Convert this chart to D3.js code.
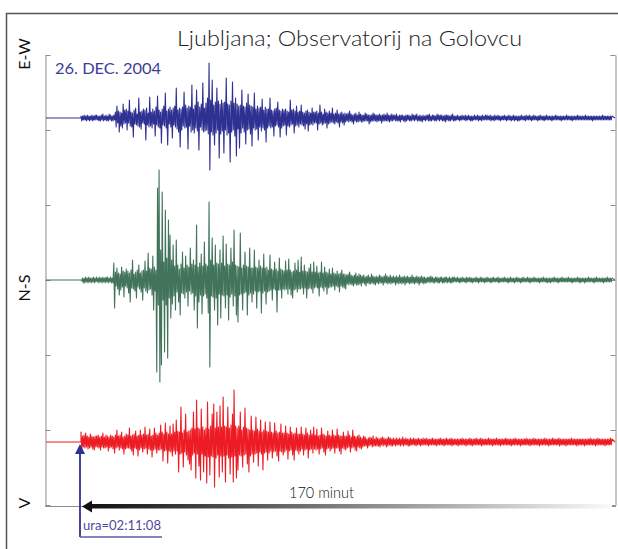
<!DOCTYPE html>
<html>
<head>
<meta charset="utf-8">
<script src="https://cdn.jsdelivr.net/npm/d3@7"></script>
<style>
  body { margin: 0; background: #fff; }
  text { font-family: "Lato", "Open Sans", "DejaVu Sans", sans-serif; }
</style>
</head>
<body>
<div id="seismo"></div>
<script>
// ------------------------------------------------------------------------ //
// DATA (amplitudes, one value every quarter minute)
// ------------------------------------------------------------------------ //

var channels = ["E-W", "N-S", "V"]
var stepMin = 0.25
var durationMin = 170
var startTime = "ura=02:11:08"
var dateLabel = "26. DEC. 2004"

var ampEW = [
  2,-3,2,-2,3,-2,2,-3,3,-2,2,-3,2,-2,3,-3,2,-2,3,-2,
  3,-2,2,-3,2,-3,3,-2,4,-3,2,-2,3,-3,2,-3,4,-2,3,-3,
  2,-3,3,-2,6,-9,12,-5,7,-14,6,-8,5,-10,14,-6,8,-5,9,-12,
  7,-5,18,-8,6,-9,5,-19,8,-6,10,-7,4,-8,20,-9,6,-11,7,-5,
  9,-6,8,-22,10,-7,5,-9,21,-8,6,-10,9,-6,7,-18,11,-7,22,-9,
  8,-10,6,-25,9,-7,12,-8,25,-10,7,-27,9,-6,11,-9,8,-20,10,-7,
  12,-9,30,-11,8,-14,10,-29,9,-12,11,-8,26,-10,13,-9,10,-31,12,-8,
  11,-14,33,-12,9,-15,13,-10,28,-13,16,-32,11,-9,14,-12,35,-14,10,-13,
  15,-12,20,-16,55,-52,18,-14,38,-17,13,-27,16,-15,30,-12,17,-40,14,-16,
  18,-13,15,-35,16,-12,40,-17,14,-15,13,-44,17,-14,36,-12,15,-18,20,-38,
  14,-11,12,-30,13,-15,28,-10,12,-14,11,-26,15,-12,24,-11,13,-16,12,-28,
  11,-10,25,-12,9,-11,12,-22,10,-9,11,-13,19,-10,8,-12,11,-24,9,-10,
  9,-8,20,-10,8,-9,7,-18,9,-8,10,-7,16,-9,8,-19,7,-10,9,-8,
  8,-7,9,-17,7,-8,6,-9,18,-7,8,-6,9,-15,7,-8,12,-7,6,-9,
  7,-6,13,-7,6,-8,5,-11,7,-6,8,-13,6,-7,5,-6,10,-7,6,-5,
  6,-5,7,-12,5,-6,13,-5,6,-7,4,-6,9,-5,6,-10,5,-6,7,-5,
  5,-4,10,-5,4,-6,5,-4,8,-5,4,-9,5,-4,6,-5,4,-7,5,-4,
  4,-3,5,-4,7,-3,4,-4,3,-6,4,-3,5,-4,3,-4,6,-3,4,-4,
  3,-4,3,-3,5,-3,4,-3,3,-6,3,-4,3,-3,5,-3,4,-3,3,-4,
  3,-3,4,-3,3,-5,3,-3,4,-3,3,-3,5,-3,3,-4,3,-3,4,-3,
  3,-2,3,-3,4,-3,2,-3,3,-4,3,-2,3,-3,2,-4,3,-3,3,-2,
  3,-3,2,-3,4,-2,3,-3,3,-2,4,-3,2,-3,3,-3,2,-4,3,-2,
  2,-3,3,-2,3,-3,4,-3,2,-3,3,-2,3,-3,2,-3,4,-2,3,-3,
  3,-2,3,-3,2,-3,3,-4,3,-2,3,-3,2,-3,3,-2,4,-3,2,-3,
  2,-2,3,-2,2,-3,2,-2,3,-2,2,-2,3,-3,2,-2,3,-2,2,-3,
  2,-3,2,-2,3,-2,2,-2,3,-3,2,-2,2,-3,3,-2,2,-2,3,-2,
  3,-2,2,-2,3,-3,2,-2,2,-3,3,-2,2,-2,3,-2,2,-3,2,-2,
  2,-2,3,-2,2,-3,2,-2,3,-2,2,-3,2,-2,3,-3,2,-2,2,-3,
  2,-3,2,-2,3,-2,2,-2,2,-3,3,-2,2,-2,3,-2,2,-3,2,-2,
  3,-2,2,-2,2,-3,2,-2,3,-2,2,-2,2,-3,2,-2,3,-2,2,-2,
  2,-2,2,-3,2,-2,2,-2,3,-2,2,-2,2,-2,2,-3,2,-2,2,-2,
  2,-2,3,-2,2,-2,2,-2,2,-3,2,-2,2,-2,2,-2,3,-2,2,-2,
  2,-2,2,-2,2,-2,3,-2,2,-2,2,-2,2,-2,2,-3,2,-2,2,-2,
  2,-2,2,-2,2,-2,2,-2,3,-2,2,-2,2,-2,2,-2,2,-2,2,-2,
  2
]

var ampNS = [
  0,-1,2,-3,2,-3,3,-2,2,-3,3,-2,2,-3,2,-2,3,-3,2,-2,
  3,-2,2,-3,3,-2,2,-3,3,-2,2,-3,3,-2,3,-3,2,-2,3,-3,
  2,-3,17,-28,8,-6,12,-9,7,-15,6,-10,13,-7,9,-17,8,-6,11,-8,
  9,-13,7,-22,10,-8,20,-9,6,-11,8,-18,10,-7,15,-9,7,-12,9,-20,
  10,-8,19,-11,9,-13,27,-10,12,-9,11,-15,24,-30,13,-11,10,-92,92,-25,
  110,-102,30,-85,88,-20,18,-72,70,-25,22,-78,60,-18,45,-38,20,-24,35,-16,
  14,-30,40,-12,15,-22,11,-35,16,-13,28,-14,12,-18,24,-12,15,-26,13,-11,
  32,-14,16,-13,20,-30,15,-16,55,-48,13,-22,17,-15,26,-34,14,-16,38,-14,
  16,-18,14,-33,78,-87,20,-16,42,-17,15,-30,35,-18,17,-45,16,-14,30,-38,
  17,-15,44,-16,14,-28,36,-15,16,-40,15,-17,32,-14,18,-26,50,-16,15,-35,
  14,-42,13,-15,47,-14,12,-30,15,-13,28,-12,14,-35,13,-15,32,-13,12,-22,
  12,-14,30,-11,13,-28,12,-12,20,-11,14,-33,12,-13,26,-11,12,-24,13,-12,
  10,-11,25,-10,11,-20,10,-9,18,-10,11,-32,9,-10,22,-10,11,-18,10,-9,
  9,-10,19,-9,10,-14,21,-9,10,-15,8,-18,9,-10,17,-9,10,-12,20,-9,
  8,-9,23,-8,9,-14,15,-8,9,-18,8,-9,12,-8,16,-9,8,-13,18,-8,
  8,-7,14,-8,7,-16,8,-7,18,-8,7,-11,13,-7,8,-14,7,-8,11,-7,
  6,-7,12,-6,7,-10,6,-6,9,-7,6,-12,7,-6,10,-7,6,-8,6,-9,
  5,-4,6,-5,8,-4,5,-5,4,-6,5,-4,7,-5,4,-5,6,-4,5,-6,
  4,-3,5,-4,3,-6,4,-3,5,-4,3,-4,6,-3,4,-4,3,-5,4,-3,
  3,-4,5,-3,4,-3,3,-5,4,-3,6,-3,4,-4,3,-3,5,-4,3,-3,
  4,-3,3,-5,4,-3,3,-4,5,-3,3,-4,3,-3,4,-5,3,-3,4,-3,
  3,-4,3,-3,5,-3,3,-4,3,-3,4,-3,3,-5,3,-3,4,-3,3,-4,
  3,-3,2,-3,3,-2,3,-3,4,-2,3,-3,2,-3,3,-2,3,-3,2,-3,
  3,-2,3,-3,2,-3,3,-2,3,-3,2,-2,3,-3,2,-3,3,-2,3,-2,
  2,-2,3,-2,2,-3,2,-2,3,-2,2,-2,2,-3,3,-2,2,-2,3,-2,
  2,-3,2,-2,2,-2,3,-2,2,-3,2,-2,3,-2,2,-2,2,-3,2,-2,
  3,-2,2,-2,2,-3,2,-2,3,-2,2,-2,2,-2,3,-3,2,-2,2,-2,
  2,-2,3,-2,2,-2,2,-3,2,-2,3,-2,2,-2,2,-3,2,-2,3,-2,
  2,-2,2,-3,2,-2,3,-2,2,-2,2,-2,3,-2,2,-3,2,-2,2,-2,
  3,-2,2,-2,2,-2,2,-3,2,-2,2,-2,3,-2,2,-2,2,-3,2,-2,
  2,-3,2,-2,2,-2,3,-2,2,-2,2,-3,2,-2,2,-2,3,-2,2,-2,
  2,-2,2,-2,3,-2,2,-2,2,-3,2,-2,2,-2,2,-2,3,-2,2,-3,
  2,-2,2,-2,2,-3,2,-2,2,-2,3,-2,2,-2,2,-2,2,-3,2,-2,
  3,-2,2,-2,2,-2,2,-2,2,-3,2,-2,2,-2,3,-2,2,-2,2,-2,
  2
]

var ampV = [
  10,-8,6,-5,7,-6,9,-5,6,-7,5,-6,8,-5,6,-7,5,-8,6,-5,
  6,-5,7,-6,5,-8,6,-5,9,-6,5,-6,7,-5,6,-9,5,-6,7,-5,
  6,-7,5,-11,7,-6,12,-5,6,-8,7,-6,10,-7,5,-12,6,-7,8,-6,
  7,-6,14,-7,6,-9,7,-13,8,-6,11,-7,6,-14,7,-8,12,-6,7,-10,
  8,-7,15,-6,7,-12,8,-7,13,-8,6,-15,7,-8,14,-7,9,-11,7,-8,
  9,-8,17,-7,10,-19,8,-9,19,-8,10,-21,8,-9,16,-10,8,-14,18,-9,
  10,-12,22,-9,11,-30,10,-12,35,-11,9,-25,12,-10,28,-13,10,-18,11,-22,
  12,-28,14,-13,30,-11,13,-36,42,-12,14,-24,13,-38,33,-12,15,-30,12,-14,
  14,-41,40,-15,13,-33,16,-14,28,-15,38,-45,14,-16,30,-13,15,-35,36,-14,
  15,-30,45,-14,16,-40,15,-13,35,-16,14,-32,17,-15,28,-40,52,-14,16,-36,
  14,-28,16,-13,30,-14,12,-25,15,-13,34,-12,14,-22,13,-30,12,-14,26,-12,
  12,-20,11,-12,25,-11,13,-24,11,-10,22,-12,10,-28,12,-11,20,-10,11,-18,
  10,-11,20,-9,10,-16,9,-10,19,-9,11,-14,9,-19,10,-9,18,-10,9,-13,
  9,-10,16,-8,9,-17,8,-9,15,-8,10,-13,8,-18,9,-8,14,-9,8,-12,
  8,-9,15,-7,8,-13,7,-8,14,-7,9,-16,7,-8,12,-7,8,-11,15,-7,
  7,-8,13,-7,6,-12,7,-7,14,-6,8,-10,7,-13,6,-7,11,-6,7,-9,
  6,-7,12,-6,7,-11,6,-6,13,-6,7,-9,6,-12,6,-6,10,-7,6,-8,
  6,-6,11,-5,7,-10,5,-6,12,-5,6,-8,5,-9,6,-5,7,-6,5,-7,
  4,-5,6,-4,5,-4,3,-6,4,-4,5,-3,4,-5,6,-4,3,-4,5,-4,
  4,-4,3,-5,4,-3,5,-4,4,-3,3,-5,4,-4,5,-3,4,-4,3,-4,
  4,-3,3,-4,4,-3,3,-3,4,-4,3,-3,5,-4,3,-3,4,-3,3,-4,
  3,-4,4,-3,3,-3,4,-3,3,-4,3,-3,4,-3,3,-4,3,-3,4,-3,
  3,-3,4,-3,3,-4,3,-3,3,-3,4,-3,3,-3,3,-4,3,-3,3,-3,
  4,-3,3,-3,3,-4,3,-3,4,-3,3,-3,3,-3,4,-4,3,-3,3,-3,
  3,-3,3,-4,3,-3,3,-3,4,-3,3,-3,3,-4,3,-3,3,-3,4,-3,
  3,-4,3,-3,3,-3,4,-3,3,-3,3,-3,4,-4,3,-3,3,-3,3,-3,
  3,-3,4,-3,3,-3,3,-4,3,-3,3,-3,4,-3,3,-3,3,-4,3,-3,
  3,-3,3,-3,4,-3,3,-3,3,-3,3,-4,3,-3,3,-3,4,-3,3,-3,
  3,-3,3,-4,3,-3,3,-3,3,-3,4,-3,3,-3,3,-4,3,-3,3,-3,
  4,-3,3,-3,3,-3,3,-4,3,-3,3,-3,3,-3,4,-3,3,-3,3,-4,
  3,-3,3,-3,4,-3,3,-3,3,-3,3,-3,4,-4,3,-3,3,-3,3,-3,
  3,-4,3,-3,3,-3,3,-3,4,-3,3,-3,3,-3,3,-4,3,-3,3,-3,
  3,-3,3,-3,3,-4,3,-3,3,-3,3,-3,4,-3,3,-3,3,-3,3,-4,
  3,-3,4,-3,3,-3,3,-3,3,-3,3,-4,3,-3,3,-3,3,-3,4,-3,
  3
]

var traces = [
  {name: "E-W", amp: ampEW, color: "#2e3192", base: 118},
  {name: "N-S", amp: ampNS, color: "#41745a", base: 280},
  {name: "V",   amp: ampV,  color: "#ed1c24", base: 442}
]

// ------------------------------------------------------------------------ //
// SVG AREA
// ------------------------------------------------------------------------ //

var W = 618, H = 549
var box = {left: 45, right: 616, top: 55, bottom: 506}

var svg = d3.select("#seismo")
  .append("svg")
    .attr("width", W)
    .attr("height", H)

var defs = svg.append("defs")

// outer frame
svg.append("path")
  .attr("d", "M6.5," + H + "V13.5H" + W)
  .attr("fill", "none")
  .attr("stroke", "#555")
  .attr("stroke-width", 1.5)

// ------------------------------------------------------------------------ //
// SCALES AND AXES
// ------------------------------------------------------------------------ //

var x = d3.scaleLinear()
  .domain([0, durationMin])
  .range([81, 612])

var amp = d3.scaleLinear()
  .domain([-100, 100])
  .range([100, -100])

var tickScale = d3.scaleLinear()
  .domain([0, 6])
  .range([box.bottom - 1, box.top])

svg.append("g")
  .attr("transform", "translate(" + (box.left + 0.5) + ",0)")
  .call(d3.axisRight(tickScale).ticks(6).tickSize(5).tickSizeOuter(0).tickFormat(""))
  .call(function(g) { g.selectAll("line, path").attr("stroke", "#8c8c8c") })

svg.append("g")
  .attr("transform", "translate(" + (box.right - 0.5) + ",0)")
  .call(d3.axisLeft(tickScale).ticks(6).tickSize(5).tickSizeOuter(0).tickFormat(""))
  .call(function(g) { g.selectAll("line, path").attr("stroke", "#8c8c8c") })

// bottom line
svg.append("line")
  .attr("x1", box.left).attr("x2", box.right)
  .attr("y1", box.bottom + 0.5).attr("y2", box.bottom + 0.5)
  .attr("stroke", "#8c8c8c")

// ------------------------------------------------------------------------ //
// TRACES
// ------------------------------------------------------------------------ //

var tLeft = x.invert(box.left + 1), tRight = x.invert(box.right - 1)

traces.forEach(function(tr) {
  var pts = [[tLeft, 0], [0, 0]]
  tr.amp.forEach(function(v, i) { pts.push([i * stepMin, v]) })
  pts.push([tRight, 0])

  var line = d3.line()
    .x(function(d) { return x(d[0]) })
    .y(function(d) { return tr.base + amp(d[1]) })

  svg.append("path")
    .datum(pts)
    .attr("d", line)
    .attr("fill", "none")
    .attr("stroke", tr.color)
    .attr("stroke-width", 1.1)
    .attr("stroke-linejoin", "round")
})

// ------------------------------------------------------------------------ //
// ANNOTATION
// ------------------------------------------------------------------------ //

svg.append("text")
  .attr("x", 177).attr("y", 46)
  .attr("font-size", "21px")
  .attr("font-weight", 300)
  .attr("textLength", 345)
  .attr("lengthAdjust", "spacingAndGlyphs")
  .attr("fill", "#222")
  .text("Ljubljana; Observatorij na Golovcu")

svg.append("text")
  .attr("x", 55).attr("y", 74)
  .attr("font-size", "15px")
  .attr("textLength", 106)
  .attr("lengthAdjust", "spacingAndGlyphs")
  .attr("fill", "#3c3c99")
  .text(dateLabel)

var labelY = [54, 288, 503]
channels.forEach(function(c, i) {
  svg.append("text")
    .attr("transform", "translate(30," + labelY[i] + ") rotate(-90)")
    .attr("text-anchor", "middle")
    .attr("font-size", "16px")
    .attr("fill", "#111")
    .text(c)
})

// time arrow with gradient
var grad = defs.append("linearGradient")
  .attr("id", "timeGrad")
  .attr("x1", "0%").attr("x2", "100%")
grad.append("stop").attr("offset", "0%").attr("stop-color", "#111")
grad.append("stop").attr("offset", "45%").attr("stop-color", "#777")
grad.append("stop").attr("offset", "100%").attr("stop-color", "#fafafa")

svg.append("rect")
  .attr("x", x(0) + 8).attr("y", box.bottom - 2)
  .attr("width", x(durationMin) - x(0) - 8).attr("height", 4.5)
  .attr("fill", "url(#timeGrad)")

svg.append("path")
  .attr("d", "M" + (x(0) + 1) + "," + (box.bottom + 0.5) + "l10,-6v12z")
  .attr("fill", "#111")

svg.append("text")
  .attr("x", 289).attr("y", 498)
  .attr("font-size", "15px")
  .attr("font-weight", 300)
  .attr("textLength", 65)
  .attr("lengthAdjust", "spacingAndGlyphs")
  .attr("fill", "#111")
  .text(durationMin + " minut")

// start time marker
var ax = x(0) - 1
svg.append("line")
  .attr("x1", ax).attr("x2", ax)
  .attr("y1", 537).attr("y2", 452)
  .attr("stroke", "#2e3192")
  .attr("stroke-width", 1.8)
svg.append("path")
  .attr("d", "M" + ax + ",444l-5,10h10z")
  .attr("fill", "#2e3192")
svg.append("line")
  .attr("x1", ax).attr("x2", 162)
  .attr("y1", 537).attr("y2", 537)
  .attr("stroke", "#5a5aa8")
  .attr("stroke-width", 1.5)
svg.append("text")
  .attr("x", ax + 3).attr("y", 530)
  .attr("font-size", "13px")
  .attr("textLength", 78)
  .attr("lengthAdjust", "spacingAndGlyphs")
  .attr("fill", "#4b4ba0")
  .text(startTime)
</script>
</body>
</html>
